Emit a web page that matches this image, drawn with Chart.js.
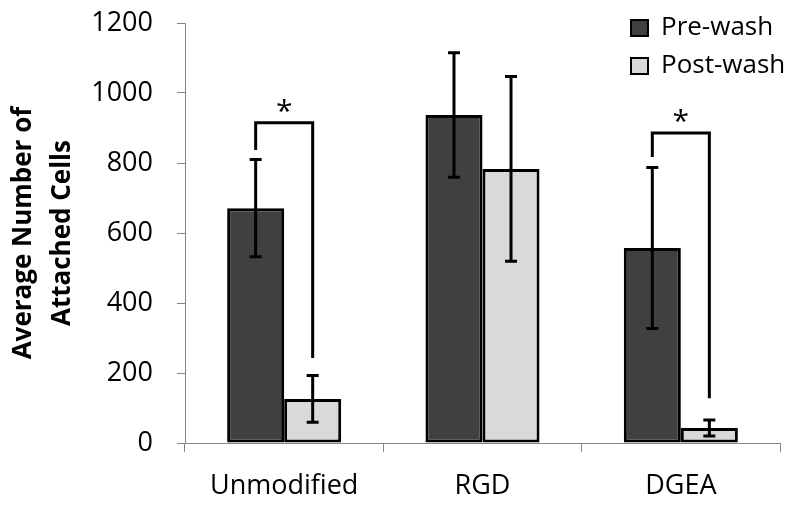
<!DOCTYPE html>
<html>
<head>
<meta charset="utf-8">
<script src="https://cdn.jsdelivr.net/npm/chart.js@4.4.1/dist/chart.umd.min.js"></script>
<style>
  html, body { margin: 0; padding: 0; background: #fff; }
  #wrap { width: 800px; height: 512px; }
</style>
</head>
<body>
<div id="wrap"><canvas id="c" width="800" height="512"></canvas></div>
<script>
// ---- data ----
const categories = ['Unmodified', 'RGD', 'DGEA'];
const seriesNames = ['Pre-wash', 'Post-wash'];
const preWash = [671, 937, 557];
const postWash = [126, 783, 43];
const preWashErr = [139, 178, 230];
const postWashErr = [67, 264, 23];
const yTicks = [0, 200, 400, 600, 800, 1000, 1200];
// significance brackets: category index, bracket height, left-leg end, right-leg end
const sigCategory = [0, 2];
const sigTop = [915, 886];
const sigLeftEnd = [837, 817];
const sigRightEnd = [243, 128];
const sigLabel = ['*', '*'];

const FONT = "'Open Sans', 'DejaVu Sans', sans-serif";
const errs = [preWashErr, postWashErr];

const errorBarPlugin = {
  id: 'errorBars',
  afterDatasetsDraw(chart) {
    const ctx = chart.ctx;
    const y = chart.scales.y;
    ctx.save();
    ctx.strokeStyle = '#000';
    ctx.lineWidth = 3;
    chart.data.datasets.forEach((ds, di) => {
      const meta = chart.getDatasetMeta(di);
      meta.data.forEach((bar, i) => {
        const v = ds.data[i], e = errs[di][i];
        const yt = y.getPixelForValue(v + e), yb = y.getPixelForValue(v - e);
        const x = bar.x;
        ctx.beginPath();
        ctx.moveTo(x, yt); ctx.lineTo(x, yb);
        ctx.moveTo(x - 6, yt); ctx.lineTo(x + 6, yt);
        ctx.moveTo(x - 6, yb); ctx.lineTo(x + 6, yb);
        ctx.stroke();
      });
    });
    ctx.restore();
  }
};

const bracketPlugin = {
  id: 'brackets',
  afterDatasetsDraw(chart) {
    const ctx = chart.ctx;
    const y = chart.scales.y;
    const m0 = chart.getDatasetMeta(0), m1 = chart.getDatasetMeta(1);
    ctx.save();
    ctx.strokeStyle = '#000';
    ctx.lineWidth = 3;
    ctx.lineJoin = 'miter';
    sigCategory.forEach((ci, k) => {
      const xl = m0.data[ci].x, xr = m1.data[ci].x;
      const yt = y.getPixelForValue(sigTop[k]);
      ctx.beginPath();
      ctx.moveTo(xl, y.getPixelForValue(sigLeftEnd[k]));
      ctx.lineTo(xl, yt);
      ctx.lineTo(xr, yt);
      ctx.lineTo(xr, y.getPixelForValue(sigRightEnd[k]));
      ctx.stroke();
      ctx.fillStyle = '#000';
      ctx.font = '30px ' + FONT;
      ctx.textAlign = 'center';
      ctx.textBaseline = 'alphabetic';
      ctx.fillText(sigLabel[k], (xl + xr) / 2, yt - 2);
    });
    ctx.restore();
  }
};

const legendMover = {
  id: 'legendMover',
  beforeDraw(chart) {
    const lg = chart.legend;
    if (!lg) return;
    lg.left = 619; lg.top = 3; lg.right = 800; lg.bottom = 110;
    lg.width = 181; lg.height = 107;
  }
};

new Chart(document.getElementById('c'), {
  type: 'bar',
  data: {
    labels: categories,
    datasets: [
      { label: seriesNames[0], data: preWash, backgroundColor: '#404040', borderColor: '#000', borderWidth: 3, borderSkipped: false,
        categoryPercentage: 0.575, barPercentage: 1.0 },
      { label: seriesNames[1], data: postWash, backgroundColor: '#d9d9d9', borderColor: '#000', borderWidth: 3, borderSkipped: false,
        categoryPercentage: 0.575, barPercentage: 1.0 }
    ]
  },
  options: {
    responsive: false,
    animation: false,
    devicePixelRatio: 1,
    layout: { padding: { left: 0, top: 23, right: 20, bottom: 0 } },
    plugins: {
      tooltip: { enabled: false },
      legend: {
        position: 'chartArea',
        align: 'start',
        labels: {
          font: { family: FONT, size: 26 },
          color: '#000',
          boxWidth: 17,
          boxHeight: 16,
          padding: 12,
          generateLabels(chart) {
            const items = Chart.defaults.plugins.legend.labels.generateLabels(chart);
            items.forEach(it => { it.lineWidth = 2; it.strokeStyle = '#000'; });
            return items;
          }
        }
      }
    },
    scales: {
      x: {
        grid: { display: true, offset: true, drawOnChartArea: false, drawTicks: true, tickLength: 9, color: '#868686', lineWidth: 1 },
        border: { display: true, color: '#868686', width: 1 },
        ticks: { font: { family: FONT, size: 27 }, color: '#000', padding: 18 },
        afterFit(s) { s.height = 69; s.paddingLeft = 0; s.paddingRight = 0; }
      },
      y: {
        min: 0, max: 1200,
        afterBuildTicks(s) { s.ticks = yTicks.map(v => ({ value: v })); },
        grid: { display: true, drawOnChartArea: false, drawTicks: true, tickLength: 8, color: '#868686', lineWidth: 1 },
        border: { display: true, color: '#868686', width: 1 },
        ticks: { font: { family: FONT, size: 27 }, color: '#000', padding: 24, callback: (v) => String(v) },
        title: {
          display: true,
          text: ['Average Number of', 'Attached Cells'],
          font: { family: FONT, size: 26, weight: 'bold', lineHeight: 1.5 },
          color: '#000',
          padding: { top: 4, bottom: 0 }
        },
        afterFit(s) { s.width = 185; s.paddingTop = 0; s.paddingBottom = 0; }
      }
    }
  },
  plugins: [errorBarPlugin, bracketPlugin, legendMover]
});
</script>
</body>
</html>
